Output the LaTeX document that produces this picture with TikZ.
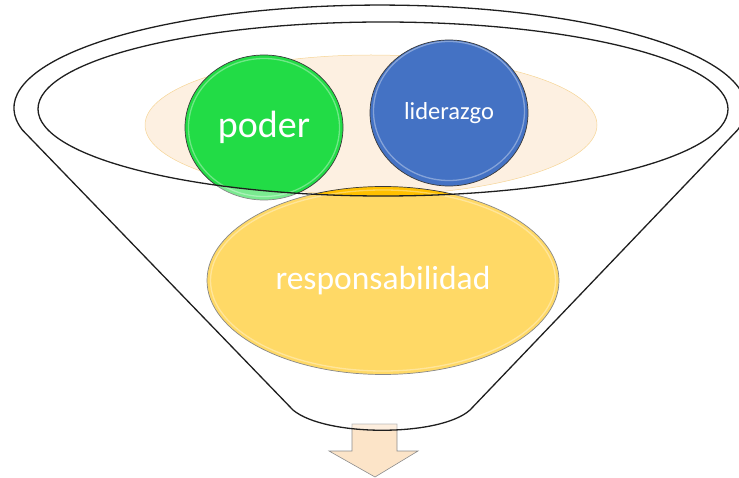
\documentclass[tikz,border=0pt]{standalone}
\usepackage{fontspec}
\setmainfont{Carlito}
\usetikzlibrary{shapes.geometric}
\definecolor{peach}{HTML}{FDF0E1}
\definecolor{peachline}{HTML}{F6D596}
\definecolor{gr}{HTML}{22DC46}
\definecolor{bl}{HTML}{4472C4}
\definecolor{yl}{HTML}{FFC000}
\definecolor{arrowfill}{HTML}{FCE4C8}
\definecolor{outl}{HTML}{3A3A3A}
\tikzset{
  ball/.style={ellipse, draw=outl, line width=0.7pt, inner sep=0pt, text=white},
  gloss/.style={draw=white, draw opacity=0.35, line width=1.3pt},
  funline/.style={draw=black!88, line width=1.3pt},
}
\begin{document}
\begin{tikzpicture}[x=1pt,y=-1pt]
\useasboundingbox (0,0) rectangle (739,478);
% background peach ellipse
\node[ellipse, fill=peach, draw=peachline, line width=0.5pt, minimum width=452pt, minimum height=140pt, inner sep=0pt] (back) at (371,125) {};
% circles
\node[ball, fill=gr, minimum width=158pt, minimum height=145pt, font=\fontsize{38}{44}\selectfont] (poder) at (264,127.5) {poder};
\draw[gloss] (264,127.5) ellipse [x radius=75.5pt, y radius=69pt];
\node[ball, fill=bl, minimum width=158pt, minimum height=146pt, font=\fontsize{24.5}{29}\selectfont] (lid) at (449,113) {liderazgo};
\draw[gloss] (449,111) ellipse [x radius=75.5pt, y radius=69.5pt];
\node[ball, fill=yl, minimum width=352pt, minimum height=188pt, font=\fontsize{33.5}{40}\selectfont] (resp) at (383,280.5) {responsabilidad};
\draw[gloss] (383,280.5) ellipse [x radius=172.5pt, y radius=90.5pt];
% arrow
\draw[fill=arrowfill, draw=black!45, line width=0.6pt] (352,424) coordinate (a1) -- (397,424) -- (397,451) -- (418,451) -- (375,477) -- (329,451) -- (352,451) -- cycle;
% funnel body overlay
\fill[white, fill opacity=0.4, even odd rule]
  (22.4,130) arc[start angle=167.7, end angle=372.3, x radius=366, y radius=103]
  -- (470,410) .. controls (440,437) and (325,437) .. (293,410) -- cycle
  (383,109) ellipse [x radius=345, y radius=87];
% outlines
\draw[funline, line join=round]
  (22.4,130) arc[start angle=167.7, end angle=372.3, x radius=366, y radius=103]
  -- (470,410) .. controls (440,437) and (325,437) .. (293,410) -- cycle;
\draw[funline] (383,109) ellipse [x radius=345, y radius=87];
\end{tikzpicture}
\end{document}
